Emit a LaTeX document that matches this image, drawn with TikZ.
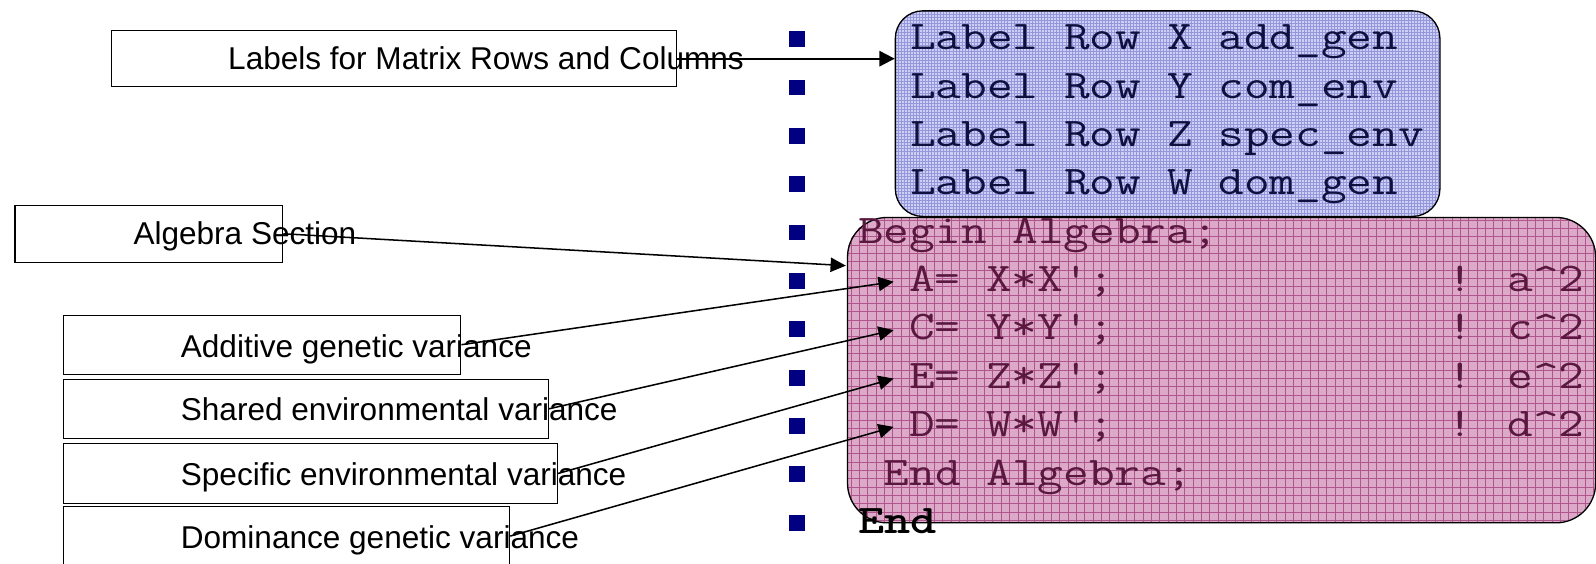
\documentclass[tikz,border=0pt]{standalone}
\usepackage{fontspec}
\newfontfamily\lblfont{Liberation Sans}
\usetikzlibrary{arrows.meta,patterns}
\definecolor{navy}{HTML}{000080}
\definecolor{bluebase}{HTML}{CDD0F4}
\definecolor{bluemesh}{HTML}{9498DA}
\definecolor{pinkbase}{HTML}{DCAAC8}
\definecolor{pinkline}{HTML}{B0568C}
\definecolor{bluetext}{HTML}{101040}
\definecolor{pinktext}{HTML}{5A1840}
\newcommand\cwide[1]{\scalebox{1.225}[1]{#1}}
\begin{document}
\begin{tikzpicture}[x=1pt,y=-1pt,
  lbox/.style={draw=black, line width=1.3pt, inner sep=0pt, anchor=north west},
  lbltxt/.style={font=\lblfont\fontsize{31}{31}\selectfont, inner sep=0pt, anchor=base west, text=black},
  codetxt/.style={font=\fontsize{40}{40}\ttfamily\selectfont, inner sep=0pt, anchor=base west},
  bullet/.style={fill=navy, draw=none, minimum size=15.5pt, inner sep=0pt},
  arr/.style={line width=1.5pt, -{Triangle[length=15pt,width=14pt]}},
  arrthick/.style={line width=2pt, -{Triangle[length=15pt,width=15pt]}}
]
\useasboundingbox (0,0) rectangle (1568,554);
\fill[white] (0,0) rectangle (1568,554);

% bullets
\foreach \i in {0,...,10}
  \node[bullet] (b\i) at (783,{38.5+47.5*\i}) {};

% blue box
\node[draw=black, line width=1.3pt, rounded corners=27pt, anchor=north west,
      minimum width=535pt, minimum height=202pt, inner sep=0pt,
      preaction={fill=bluebase}, pattern=grid, pattern color=bluemesh] (blue) at (879,10) {};
\foreach \t [count=\k from 0] in {Label Row X add\_gen, Label Row Y com\_env, Label Row Z spec\_env, Label Row W dom\_gen}
  \node[codetxt, text=bluetext] (bl\k) at (894,{38.5+47.5*\k+10.5}) {\cwide{\t}};

% pink box
\node[rounded corners=39pt, anchor=north west, minimum width=735pt, minimum height=300pt,
      inner sep=0pt, fill=pinkbase] (pinkfill) at (832,213) {};
\begin{scope}
  \clip[rounded corners=39pt] (832,213) rectangle (1567,513);
  \foreach \i in {0,...,90} \draw[pinkline, line width=0.7pt] ({832+4+\i*8.2},213) -- ++(0,300);
  \foreach \j in {0,...,37} \draw[pinkline, line width=0.7pt] (832,{213+3+\j*8.2}) -- ++(735,0);
\end{scope}
\node[draw=black, line width=1.3pt, rounded corners=39pt, anchor=north west,
      minimum width=735pt, minimum height=300pt, inner sep=0pt] (pink) at (832,213) {};

\node[codetxt, text=pinktext] (beg) at (843,{228.5+10.5}) {\cwide{Begin Algebra;}};
\node[codetxt, text=pinktext, inner xsep=15pt] (lA) at (878,{276+10.5}) {\cwide{A= X*X\textquotesingle;}};
\node[codetxt, text=pinktext, inner xsep=15pt] (lC) at (878,{323.5+10.5}) {\cwide{C= Y*Y\textquotesingle;}};
\node[codetxt, text=pinktext, inner xsep=15pt] (lE) at (878,{371+10.5}) {\cwide{E= Z*Z\textquotesingle;}};
\node[codetxt, text=pinktext, inner xsep=15pt] (lD) at (878,{418.5+10.5}) {\cwide{D= W*W\textquotesingle;}};
\node[codetxt, text=pinktext] (cA) at (1422,{276+10.5}) {\cwide{! a\textasciicircum 2}};
\node[codetxt, text=pinktext] (cC) at (1422,{323.5+10.5}) {\cwide{! c\textasciicircum 2}};
\node[codetxt, text=pinktext] (cE) at (1422,{371+10.5}) {\cwide{! e\textasciicircum 2}};
\node[codetxt, text=pinktext] (cD) at (1422,{418.5+10.5}) {\cwide{! d\textasciicircum 2}};
\node[codetxt, text=pinktext] (endalg) at (868,{466+10.5}) {\cwide{End Algebra;}};
\node[codetxt, font=\fontsize{40}{40}\ttfamily\bfseries, text=black] (endall) at (843,{513.5+10.5}) {\cwide{End}};

% label boxes
\node[lbox, minimum width=555pt, minimum height=55pt] (labbox) at (109,29.5) {};
\node[lbltxt] (labtxt) at (224,68) {Labels for Matrix Rows and Columns};
\node[lbox, minimum width=263pt, minimum height=56pt] (algbox) at (14,201) {};
\node[lbltxt] (algtxt) at (131,240) {Algebra Section};
\node[lbox, minimum width=390pt, minimum height=58pt] (addbox) at (62,309) {};
\node[lbltxt] (addtxt) at (177.5,351) {Additive genetic variance};
\node[lbox, minimum width=476pt, minimum height=58pt] (shbox) at (62,372) {};
\node[lbltxt] (shtxt) at (177.5,413) {Shared environmental variance};
\node[lbox, minimum width=485pt, minimum height=59pt] (spbox) at (62,435) {};
\node[lbltxt] (sptxt) at (177.5,477) {Specific environmental variance};
\node[lbox, minimum width=438pt, minimum height=58pt] (dombox) at (62,497) {};
\node[lbltxt] (domtxt) at (177.5,539) {Dominance genetic variance};

% connectors
\coordinate (algtip) at (831,261);
\draw[arrthick] (labbox.east) -- (labbox.east -| blue.west);
\draw[arr] (algbox.east) -- (algtip);
\draw[arr] (addbox.east) -- (lA.west);
\draw[arr] (shbox.east) -- (lC.west);
\draw[arr] (spbox.east) -- (lE.west);
\draw[arr] (dombox.east) -- (lD.west);
\end{tikzpicture}
\end{document}
